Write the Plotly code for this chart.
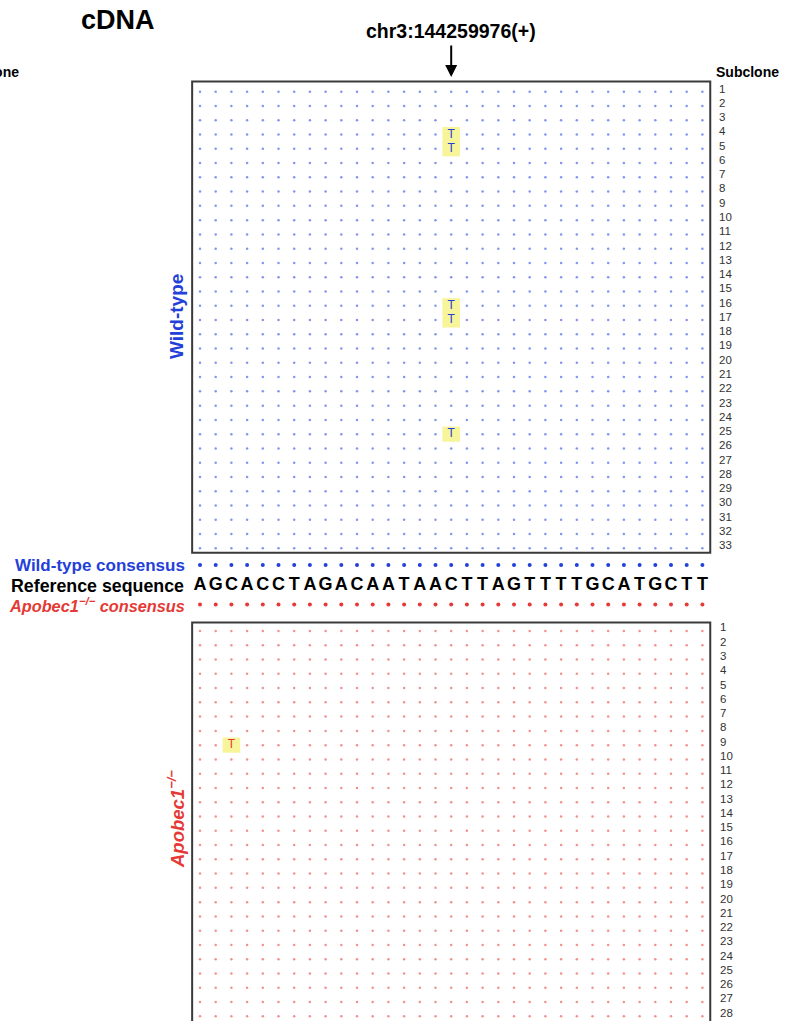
import plotly.graph_objects as go

# ---------------- data ----------------
reference_seq = list("AGCACCTAGACAATAACTTAGTTTTGCATGCTT")
wt_subclones = list(range(1, 34))          # 33 wild-type subclones
apobec_subclones = list(range(1, 29))      # 28 visible Apobec1-/- subclones
wt_mut_rows = [4, 5, 16, 17, 25]
wt_mut_cols = [17, 17, 17, 17, 17]
wt_mut_bases = ["T", "T", "T", "T", "T"]
ap_mut_rows = [9]
ap_mut_cols = [3]
ap_mut_bases = ["T"]
site_label = "chr3:144259976(+)"
site_col = 17

# ---------------- layout constants (pixels) ----------------
W, H = 796, 1021
X0, CW = 200.0, 15.7      # pixel of column 1, pixel per column
Y0, RH = 91.7, 14.27      # pixel of WT row 1, pixel per row
AP_ROW1 = 631.0           # pixel of Apobec row 1

def px(p):
    return 1 + (p - X0) / CW

def py(p):
    return 1 + (p - Y0) / RH

ap_off = py(AP_ROW1) - 1
ncol = len(reference_seq)
cols = list(range(1, ncol + 1))

BLUE = "#2340d8"
BLUE_L = "#8594f0"
RED = "#e53935"
RED_L = "#f29090"
YEL = "#f7f49a"
FONT = "Liberation Sans"

fig = go.Figure()

# grid dots
def grid(rows, muts, off, color):
    xs, ys = [], []
    mset = set(muts)
    for r in rows:
        for c in cols:
            if (r, c) in mset:
                continue
            xs.append(c)
            ys.append(r + off)
    fig.add_trace(go.Scatter(x=xs, y=ys, mode="markers",
                             marker=dict(size=2.5, color=color), hoverinfo="skip"))

grid(wt_subclones, list(zip(wt_mut_rows, wt_mut_cols)), 0, BLUE_L)
grid(apobec_subclones, list(zip(ap_mut_rows, ap_mut_cols)), ap_off, RED_L)

shapes = []
# highlights
for r, c in zip(wt_mut_rows, wt_mut_cols):
    shapes.append(dict(type="rect", x0=c - 0.56, x1=c + 0.56, y0=r - 0.53, y1=r + 0.53,
                       fillcolor=YEL, line=dict(width=0), layer="below"))
for r, c in zip(ap_mut_rows, ap_mut_cols):
    shapes.append(dict(type="rect", x0=c - 0.56, x1=c + 0.56, y0=r + ap_off - 0.53,
                       y1=r + ap_off + 0.53, fillcolor=YEL, line=dict(width=0), layer="below"))

fig.add_trace(go.Scatter(x=wt_mut_cols, y=wt_mut_rows, mode="text", text=wt_mut_bases,
                         textfont=dict(family=FONT, size=12, color=BLUE), hoverinfo="skip"))
fig.add_trace(go.Scatter(x=ap_mut_cols, y=[r + ap_off for r in ap_mut_rows], mode="text",
                         text=ap_mut_bases,
                         textfont=dict(family=FONT, size=12, color=RED), hoverinfo="skip"))

# consensus rows & reference
y_wtc, y_ref, y_apc = py(565), py(585.5), py(604.5)
fig.add_trace(go.Scatter(x=cols, y=[y_wtc] * ncol, mode="markers",
                         marker=dict(size=4, color=BLUE), hoverinfo="skip"))
fig.add_trace(go.Scatter(x=cols, y=[y_apc] * ncol, mode="markers",
                         marker=dict(size=4, color=RED), hoverinfo="skip"))
fig.add_trace(go.Scatter(x=cols, y=[y_ref] * ncol, mode="text", text=reference_seq,
                         textfont=dict(family=FONT, size=18, color="black", weight="bold"),
                         hoverinfo="skip"))

# panel boxes
shapes.append(dict(type="rect", x0=0.5, x1=ncol + 0.5, y0=py(81.5), y1=py(552.7),
                   line=dict(color="#3a3a3a", width=2)))
shapes.append(dict(type="rect", x0=0.5, x1=ncol + 0.5, y0=py(622.5), y1=py(1100),
                   line=dict(color="#3a3a3a", width=2)))

ann = []
def A(text, x, y, size, color="black", xanchor="center", yanchor="middle", textangle=0, **kw):
    ann.append(dict(text=text, x=x, y=y, xref="x", yref="y", showarrow=False,
                    font=dict(family=FONT, size=size, color=color), xanchor=xanchor,
                    yanchor=yanchor, textangle=textangle, **kw))

A("<b>cDNA</b>", px(118), py(20), 27)
A("<b>" + site_label + "</b>", site_col, py(31), 19.5)
ann.append(dict(x=site_col, y=py(77), xref="x", yref="y", ax=0, ay=-33, showarrow=True,
                arrowhead=2, arrowsize=1.2, arrowwidth=2, arrowcolor="black", text=""))
A("<b>Subclone</b>", px(714), py(72), 14, xanchor="left")
A("<b>Subclone</b>", px(21), py(72), 14, xanchor="right")

for r in wt_subclones:
    A(str(r), px(717), r - 0.22, 11.5, color="#333", xanchor="left")
for r in apobec_subclones:
    A(str(r), px(718), r + ap_off - 0.25, 11.5, color="#333", xanchor="left")

A("<b>Wild-type consensus</b>", px(187), y_wtc, 17, color=BLUE, xanchor="right")
A("<b>Reference sequence</b>", px(186), y_ref, 17.8, color="black", xanchor="right")
A("<b><i>Apobec1</i><sup><i>−/−</i></sup><i> consensus</i></b>", px(187), y_apc, 16.3,
  color=RED, xanchor="right")
A("<b>Wild-type</b>", px(176), py(317), 19, color=BLUE, textangle=-90)
A("<b><i>Apobec1</i><sup><i>−/−</i></sup></b>", px(176), py(819), 18.5, color=RED, textangle=-90)

fig.update_layout(
    width=W, height=H, margin=dict(l=0, r=0, t=0, b=0),
    paper_bgcolor="white", plot_bgcolor="white", showlegend=False,
    xaxis=dict(range=[px(0), px(W)], visible=False, fixedrange=True),
    yaxis=dict(range=[py(H), py(0)], visible=False, fixedrange=True),
    shapes=shapes, annotations=ann,
)

fig.write_html("out.html", config={"displayModeBar": False},
               post_script="document.body.style.margin='0px';document.body.style.overflow='hidden';")
